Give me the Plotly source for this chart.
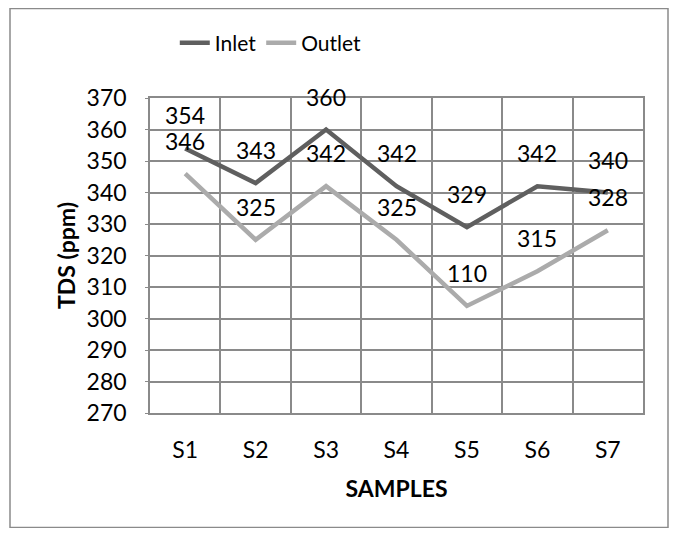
import plotly.graph_objects as go

samples = ["S1", "S2", "S3", "S4", "S5", "S6", "S7"]
inlet = [354, 343, 360, 342, 329, 342, 340]
outlet = [346, 325, 342, 325, 304, 315, 328]
inlet_labels = ["354", "343", "360", "342", "329", "342", "340"]
outlet_labels = ["346", "325", "342", "325", "110", "315", "328"]

FONT = "Lato"
FS = 23
W, H = 661, 520
ML, MR, MT, MB = 142, 26, 90, 115
PW, PH = W - ML - MR, H - MT - MB

fig = go.Figure()
fig.add_trace(go.Scatter(x=samples, y=inlet, mode="lines", name="Inlet",
                         line=dict(color="#5F5F5F", width=4.5)))
fig.add_trace(go.Scatter(x=samples, y=outlet, mode="lines", name="Outlet",
                         line=dict(color="#ABABAB", width=4.5)))

ann = []
for xs, ys, labs in [(samples, inlet, inlet_labels), (samples, outlet, outlet_labels)]:
    for x, y, t in zip(xs, ys, labs):
        ann.append(dict(x=x, y=y, text=t, showarrow=False, yshift=33,
                        font=dict(family=FONT, size=FS, color="#000")))

fig.update_layout(
    width=W, height=H,
    margin=dict(l=ML, r=MR, t=MT, b=MB),
    paper_bgcolor="white", plot_bgcolor="white",
    font=dict(family=FONT, size=FS, color="#000"),
    annotations=ann,
    legend=dict(orientation="h", x=0.245, xanchor="center", y=(405 - 35) / PH,
                yanchor="middle", font=dict(family=FONT, size=21), bgcolor="rgba(0,0,0,0)"),
    xaxis=dict(type="category", range=[-0.5, 6.5], tickson="boundaries", showgrid=True,
               gridcolor="#8A8A8A", gridwidth=1.5, showline=True, linecolor="#8A8A8A",
               linewidth=1.5, mirror=True, ticks="", ticklabelstandoff=16,
               title=dict(text="<b>SAMPLES</b>", standoff=19, font=dict(family=FONT, size=FS))),
    yaxis=dict(range=[270, 370], dtick=10, showgrid=True, gridcolor="#8A8A8A", gridwidth=1.5,
               showline=True, linecolor="#8A8A8A", linewidth=1.5, mirror=True,
               ticks="outside", ticklen=3, tickcolor="#8A8A8A", ticklabelstandoff=14,
               zeroline=False,
               title=dict(text="<b>TDS (ppm)</b>", standoff=5, font=dict(family=FONT, size=FS))),
    shapes=[dict(type="rect", xref="paper", yref="paper",
                 x0=(2 - ML) / PW, x1=(660 - ML) / PW,
                 y0=(405 - 519.5) / PH, y1=(405 - 0.5) / PH,
                 line=dict(color="#8A8A8A", width=1.5), fillcolor="rgba(0,0,0,0)", layer="below")],
)
fig.write_html("out.html")
